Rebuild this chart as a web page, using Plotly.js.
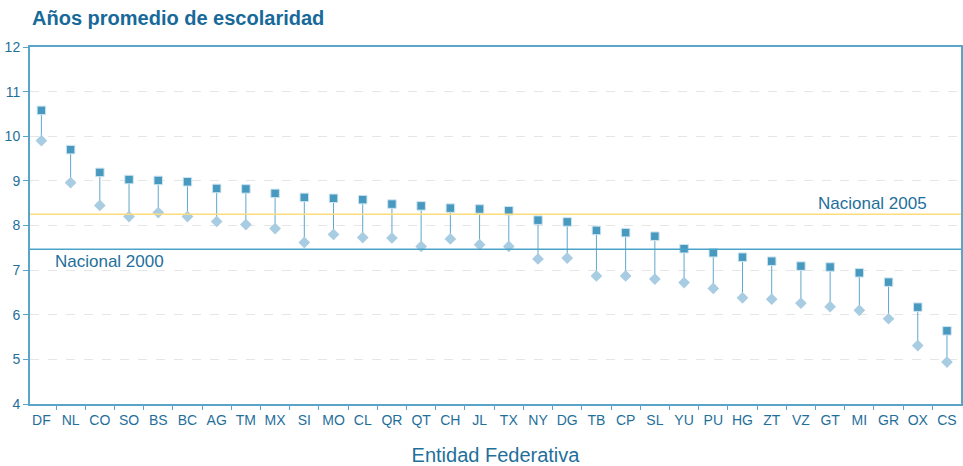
<!DOCTYPE html>
<html>
<head>
<meta charset="utf-8">
<script src="https://cdn.plot.ly/plotly-3.0.1.min.js"></script>
<style>html,body{margin:0;padding:0;background:#fff;}#chart{width:963px;height:466px;}</style>
</head>
<body>
<div id="chart"></div>
<script>
const estados = ["DF","NL","CO","SO","BS","BC","AG","TM","MX","SI","MO","CL","QR","QT","CH","JL","TX","NY","DG","TB","CP","SL","YU","PU","HG","ZT","VZ","GT","MI","GR","OX","CS"];
const anios2005 = [10.58,9.70,9.19,9.03,9.01,8.98,8.83,8.82,8.72,8.63,8.61,8.58,8.48,8.44,8.39,8.37,8.33,8.12,8.08,7.89,7.84,7.76,7.48,7.39,7.29,7.20,7.09,7.07,6.94,6.73,6.17,5.64];
const anios2000 = [9.90,8.96,8.45,8.20,8.29,8.20,8.09,8.02,7.93,7.62,7.80,7.73,7.72,7.53,7.70,7.57,7.53,7.25,7.27,6.87,6.87,6.80,6.72,6.59,6.38,6.35,6.26,6.18,6.10,5.91,5.31,4.94];
const nacional2005 = 8.25;
const nacional2000 = 7.47;

const textColor = "#1f6f9b";
const axisColor = "#5ba4c9";

const stemX = [], stemY = [];
estados.forEach((e, i) => { stemX.push(e, e, null); stemY.push(anios2000[i], anios2005[i], null); });

const traces = [
  {x: stemX, y: stemY, type: "scatter", mode: "lines", line: {color: "#5ea7cd", width: 1}, hoverinfo: "skip", showlegend: false},
  {x: estados, y: anios2000, type: "scatter", mode: "markers", name: "2000",
   marker: {symbol: "diamond", size: 9, color: "#a8cce1"}, showlegend: false},
  {x: estados, y: anios2005, type: "scatter", mode: "markers", name: "2005",
   marker: {symbol: "square", size: 8.5, color: "#4799c0", line: {color: "#cfe4ef", width: 1}}, showlegend: false}
];

const layout = {
  width: 963, height: 466,
  margin: {l: 30, r: 2, t: 47, b: 62},
  paper_bgcolor: "#fff", plot_bgcolor: "#fff",
  font: {family: "Liberation Sans, Arial, sans-serif", color: textColor},
  title: {text: "<b>Años promedio de escolaridad</b>", x: 0, xref: "paper", xanchor: "left", y: 0.962, yanchor: "middle",
          font: {size: 20, color: "#17699a", family: "Liberation Sans, Arial, sans-serif"}, pad: {l: 2}},
  xaxis: {type: "category", range: [-0.39, 31.48], showgrid: false, zeroline: false,
          showline: true, linecolor: axisColor, linewidth: 2, mirror: true,
          ticks: "outside", tickson: "boundaries", ticklen: 4, tickcolor: axisColor, tickwidth: 1,
          tickangle: 0, ticklabelstandoff: 2, tickfont: {size: 14, color: textColor},
          title: {text: "Entidad Federativa", font: {size: 20, color: textColor}, standoff: 26}},
  yaxis: {range: [4, 12], dtick: 1, tick0: 4, showgrid: true, gridcolor: "#e6e6e6", griddash: "dash", gridwidth: 1,
          zeroline: false, showline: true, linecolor: axisColor, linewidth: 2, mirror: true,
          ticks: "outside", ticklen: 5, tickcolor: axisColor, tickfont: {size: 14, color: textColor}},
  shapes: [
    {type: "line", xref: "paper", x0: 0, x1: 1, yref: "y", y0: nacional2005, y1: nacional2005, line: {color: "#fddc7c", width: 1.5}},
    {type: "line", xref: "paper", x0: 0, x1: 1, yref: "y", y0: nacional2000, y1: nacional2000, line: {color: "#4aa3c8", width: 1.5}}
  ],
  annotations: [
    {text: "Nacional 2005", xref: "paper", x: 0.9656, xanchor: "right", yref: "y", y: nacional2005, yanchor: "bottom", yshift: -1, showarrow: false, font: {size: 17, color: textColor}},
    {text: "Nacional 2000", xref: "paper", x: 0.0247, xanchor: "left", yref: "y", y: nacional2000, yanchor: "top", yshift: -1, showarrow: false, font: {size: 17, color: textColor}}
  ]
};

Plotly.newPlot("chart", traces, layout, {displayModeBar: false, staticPlot: true});
</script>
</body>
</html>
